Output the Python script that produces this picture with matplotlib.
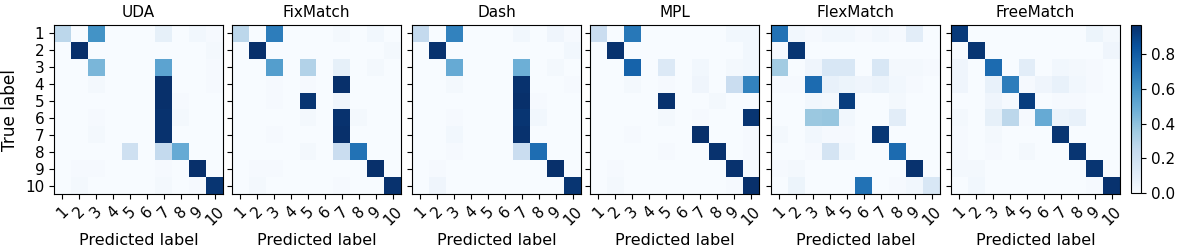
import numpy as np
import matplotlib.pyplot as plt

methods = ['UDA', 'FixMatch', 'Dash', 'MPL', 'FlexMatch', 'FreeMatch']
labels = [str(i) for i in range(1, 11)]

# rows = true label, cols = predicted label (row-normalised)
uda = [
    [0.27, 0.00, 0.60, 0.00, 0.00, 0.00, 0.08, 0.00, 0.03, 0.01],
    [0.00, 0.97, 0.00, 0.00, 0.00, 0.00, 0.00, 0.00, 0.00, 0.02],
    [0.00, 0.00, 0.45, 0.00, 0.00, 0.00, 0.53, 0.00, 0.00, 0.01],
    [0.00, 0.00, 0.02, 0.00, 0.00, 0.00, 0.97, 0.00, 0.00, 0.01],
    [0.00, 0.00, 0.00, 0.00, 0.00, 0.00, 0.98, 0.01, 0.00, 0.00],
    [0.00, 0.00, 0.01, 0.00, 0.00, 0.00, 0.96, 0.02, 0.00, 0.00],
    [0.00, 0.00, 0.02, 0.00, 0.00, 0.00, 0.96, 0.00, 0.00, 0.00],
    [0.00, 0.00, 0.00, 0.00, 0.20, 0.00, 0.25, 0.50, 0.00, 0.00],
    [0.00, 0.01, 0.01, 0.00, 0.00, 0.00, 0.01, 0.00, 0.97, 0.00],
    [0.00, 0.02, 0.00, 0.00, 0.00, 0.00, 0.02, 0.00, 0.01, 0.95],
]
fixmatch = [
    [0.27, 0.00, 0.68, 0.00, 0.00, 0.00, 0.02, 0.00, 0.03, 0.00],
    [0.00, 0.97, 0.00, 0.00, 0.00, 0.00, 0.00, 0.00, 0.00, 0.02],
    [0.00, 0.00, 0.55, 0.00, 0.30, 0.00, 0.08, 0.00, 0.02, 0.00],
    [0.00, 0.00, 0.01, 0.00, 0.01, 0.00, 0.97, 0.00, 0.00, 0.00],
    [0.00, 0.00, 0.01, 0.00, 0.95, 0.00, 0.04, 0.00, 0.00, 0.00],
    [0.00, 0.00, 0.00, 0.00, 0.02, 0.00, 0.96, 0.02, 0.00, 0.00],
    [0.00, 0.00, 0.01, 0.00, 0.00, 0.00, 0.97, 0.00, 0.00, 0.00],
    [0.00, 0.00, 0.00, 0.00, 0.02, 0.00, 0.22, 0.72, 0.00, 0.00],
    [0.00, 0.01, 0.01, 0.00, 0.00, 0.00, 0.00, 0.00, 0.97, 0.00],
    [0.00, 0.02, 0.00, 0.00, 0.00, 0.00, 0.01, 0.00, 0.00, 0.96],
]
dash = [
    [0.25, 0.00, 0.66, 0.00, 0.00, 0.00, 0.03, 0.00, 0.04, 0.01],
    [0.00, 0.96, 0.00, 0.00, 0.00, 0.00, 0.00, 0.00, 0.00, 0.03],
    [0.00, 0.00, 0.50, 0.00, 0.00, 0.00, 0.48, 0.00, 0.02, 0.00],
    [0.00, 0.00, 0.02, 0.00, 0.00, 0.00, 0.96, 0.00, 0.00, 0.01],
    [0.00, 0.00, 0.00, 0.00, 0.00, 0.00, 0.98, 0.01, 0.00, 0.00],
    [0.00, 0.00, 0.01, 0.00, 0.00, 0.00, 0.95, 0.03, 0.00, 0.00],
    [0.00, 0.00, 0.03, 0.00, 0.00, 0.00, 0.96, 0.00, 0.00, 0.00],
    [0.00, 0.00, 0.01, 0.00, 0.00, 0.00, 0.22, 0.74, 0.00, 0.00],
    [0.00, 0.01, 0.00, 0.00, 0.00, 0.00, 0.00, 0.00, 0.97, 0.00],
    [0.00, 0.04, 0.00, 0.00, 0.00, 0.00, 0.00, 0.00, 0.00, 0.95],
]
mpl = [
    [0.22, 0.00, 0.70, 0.00, 0.00, 0.00, 0.00, 0.00, 0.03, 0.03],
    [0.00, 0.96, 0.00, 0.00, 0.00, 0.00, 0.00, 0.00, 0.00, 0.03],
    [0.00, 0.00, 0.78, 0.00, 0.13, 0.00, 0.03, 0.00, 0.02, 0.03],
    [0.00, 0.00, 0.02, 0.00, 0.01, 0.00, 0.04, 0.00, 0.22, 0.66],
    [0.00, 0.00, 0.00, 0.00, 0.96, 0.00, 0.00, 0.02, 0.00, 0.00],
    [0.00, 0.00, 0.00, 0.00, 0.02, 0.00, 0.01, 0.00, 0.00, 0.95],
    [0.00, 0.00, 0.01, 0.00, 0.00, 0.00, 0.97, 0.00, 0.00, 0.01],
    [0.00, 0.00, 0.00, 0.00, 0.01, 0.00, 0.00, 0.96, 0.00, 0.01],
    [0.00, 0.01, 0.00, 0.00, 0.00, 0.00, 0.00, 0.00, 0.96, 0.01],
    [0.00, 0.02, 0.00, 0.00, 0.00, 0.00, 0.00, 0.00, 0.01, 0.98],
]
flexmatch = [
    [0.72, 0.03, 0.01, 0.03, 0.03, 0.01, 0.03, 0.01, 0.10, 0.00],
    [0.01, 0.95, 0.00, 0.00, 0.00, 0.00, 0.00, 0.00, 0.00, 0.00],
    [0.35, 0.00, 0.04, 0.15, 0.15, 0.00, 0.15, 0.02, 0.02, 0.01],
    [0.01, 0.01, 0.75, 0.07, 0.05, 0.04, 0.06, 0.03, 0.01, 0.00],
    [0.00, 0.00, 0.03, 0.02, 0.92, 0.00, 0.00, 0.02, 0.00, 0.00],
    [0.00, 0.00, 0.37, 0.38, 0.03, 0.00, 0.00, 0.10, 0.00, 0.00],
    [0.02, 0.00, 0.03, 0.01, 0.01, 0.00, 0.94, 0.00, 0.00, 0.00],
    [0.00, 0.00, 0.01, 0.17, 0.03, 0.00, 0.00, 0.75, 0.00, 0.00],
    [0.01, 0.02, 0.00, 0.00, 0.00, 0.00, 0.00, 0.00, 0.96, 0.00],
    [0.00, 0.05, 0.00, 0.00, 0.00, 0.72, 0.00, 0.01, 0.03, 0.15],
]
freematch = [
    [0.93, 0.00, 0.00, 0.00, 0.00, 0.00, 0.00, 0.00, 0.05, 0.02],
    [0.00, 0.95, 0.00, 0.00, 0.00, 0.00, 0.00, 0.00, 0.00, 0.04],
    [0.04, 0.00, 0.75, 0.00, 0.10, 0.00, 0.03, 0.02, 0.01, 0.00],
    [0.04, 0.00, 0.07, 0.68, 0.01, 0.04, 0.07, 0.03, 0.01, 0.00],
    [0.00, 0.00, 0.04, 0.01, 0.92, 0.00, 0.01, 0.01, 0.00, 0.00],
    [0.02, 0.00, 0.08, 0.27, 0.01, 0.50, 0.06, 0.07, 0.00, 0.00],
    [0.01, 0.00, 0.02, 0.00, 0.00, 0.00, 0.95, 0.00, 0.00, 0.00],
    [0.01, 0.00, 0.01, 0.00, 0.02, 0.00, 0.00, 0.95, 0.00, 0.00],
    [0.02, 0.02, 0.00, 0.00, 0.00, 0.00, 0.00, 0.00, 0.95, 0.00],
    [0.00, 0.03, 0.00, 0.00, 0.00, 0.00, 0.00, 0.00, 0.01, 0.96],
]
matrices = [uda, fixmatch, dash, mpl, flexmatch, freematch]

W, H = 1181, 252
fig = plt.figure(figsize=(W / 100, H / 100), dpi=100)

lefts = [54, 232, 412, 590, 771, 951]
aw, top, bot = 169, 25, 194
for i, (name, cm) in enumerate(zip(methods, matrices)):
    ax = fig.add_axes([lefts[i] / W, 1 - bot / H, aw / W, (bot - top) / H])
    im = ax.imshow(np.array(cm), cmap='Blues', vmin=0, vmax=0.97, aspect='auto')
    ax.set_title(name, fontsize=11)
    ax.set_xticks(range(10))
    ax.set_xticklabels(labels, rotation=45, fontsize=11)
    ax.set_yticks(range(10))
    if i == 0:
        ax.set_yticklabels(labels, fontsize=11)
        ax.set_ylabel('True label', fontsize=12.2)
    else:
        ax.set_yticklabels([])
    ax.set_xlabel('Predicted label', fontsize=11.5)

cax = fig.add_axes([1131 / W, 1 - 193 / H, 10 / W, (193 - 25) / H])
cb = fig.colorbar(im, cax=cax)
cb.set_ticks([0.0, 0.2, 0.4, 0.6, 0.8])
cb.ax.tick_params(labelsize=11)

fig.savefig('out.png', dpi=100)
